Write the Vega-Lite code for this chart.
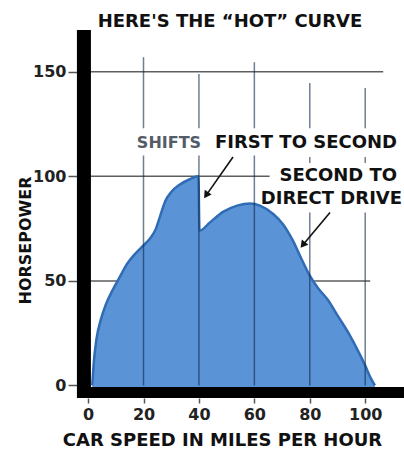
{
  "$schema": "https://vega.github.io/schema/vega-lite/v6.json",
  "width": 327,
  "height": 368,
  "autosize": {"type": "none"},
  "padding": {"left": 77, "top": 30, "right": 0, "bottom": 54},
  "background": "white",
  "config": {"view": {"stroke": null}},
  "datasets": {
    "curve": [
      {"speed": 1.5, "hp": 0}, {"speed": 2, "hp": 10}, {"speed": 3, "hp": 22}, {"speed": 4.5, "hp": 31},
      {"speed": 6.5, "hp": 39}, {"speed": 9, "hp": 46}, {"speed": 11.5, "hp": 52}, {"speed": 14, "hp": 58},
      {"speed": 17, "hp": 63}, {"speed": 20, "hp": 67}, {"speed": 22.5, "hp": 70.5}, {"speed": 24.5, "hp": 75},
      {"speed": 26, "hp": 81}, {"speed": 27.8, "hp": 88}, {"speed": 30, "hp": 92.5}, {"speed": 33, "hp": 96},
      {"speed": 36.5, "hp": 98.5}, {"speed": 39.8, "hp": 100}, {"speed": 40.2, "hp": 74}, {"speed": 44, "hp": 78},
      {"speed": 48.7, "hp": 83}, {"speed": 53.8, "hp": 86}, {"speed": 58.5, "hp": 87}, {"speed": 62, "hp": 86},
      {"speed": 66.8, "hp": 82}, {"speed": 70.4, "hp": 77}, {"speed": 74, "hp": 69}, {"speed": 77, "hp": 60.5},
      {"speed": 80, "hp": 52.5}, {"speed": 83, "hp": 46.5}, {"speed": 86.5, "hp": 41}, {"speed": 90, "hp": 33.5},
      {"speed": 94, "hp": 25}, {"speed": 98, "hp": 15}, {"speed": 100, "hp": 9.5}, {"speed": 102, "hp": 3.5},
      {"speed": 103.5, "hp": 0}
    ],
    "hgrid": [
      {"hp": 150, "speed": -1, "speed2": 106.5},
      {"hp": 100, "speed": -1, "speed2": 65.5},
      {"hp": 50, "speed": -1, "speed2": 101.8}
    ],
    "vgrid": [
      {"speed": 20, "hp": 0, "hp2": 110}, {"speed": 20, "hp": 123, "hp2": 157},
      {"speed": 40, "hp": 0, "hp2": 110}, {"speed": 40, "hp": 123, "hp2": 149},
      {"speed": 60, "hp": 0, "hp2": 110}, {"speed": 60, "hp": 123, "hp2": 154.6},
      {"speed": 80, "hp": 0, "hp2": 82.7}, {"speed": 80, "hp": 106.4, "hp2": 109.3}, {"speed": 80, "hp": 123, "hp2": 144.7},
      {"speed": 100, "hp": 0, "hp2": 82.7}, {"speed": 100, "hp": 106.4, "hp2": 109.3}, {"speed": 100, "hp": 123, "hp2": 142.3}
    ]
  },
  "layer": [
    {
      "data": {"name": "hgrid"},
      "mark": {"type": "rule", "color": "#5e5e5e", "strokeWidth": 1.5},
      "encoding": {
        "y": {"field": "hp", "type": "quantitative"},
        "x": {"field": "speed", "type": "quantitative"},
        "x2": {"field": "speed2"}
      }
    },
    {
      "data": {"name": "curve"},
      "mark": {"type": "area", "interpolate": "monotone", "color": "#5b94d6", "opacity": 1, "line": {"color": "#2f6cb5", "strokeWidth": 2.5}},
      "encoding": {
        "x": {"field": "speed", "type": "quantitative", "scale": {"domain": [-4, 114], "nice": false, "zero": false},
          "axis": {"values": [0, 20, 40, 60, 80, 100], "grid": false, "domain": false, "tickSize": 5, "tickColor": "#555", "tickWidth": 1.5,
            "labelFont": "DejaVu Sans", "labelFontSize": 16, "labelFontWeight": "bold", "labelColor": "#222", "labelPadding": 3,
            "title": "CAR SPEED IN MILES PER HOUR", "titleFont": "DejaVu Sans", "titleFontSize": 18, "titleFontWeight": "bold", "titleColor": "#111",
            "titleX": 145, "titleY": 42, "titleAlign": "center", "titleBaseline": "middle"}},
        "y": {"field": "hp", "type": "quantitative", "scale": {"domain": [-6, 170], "nice": false, "zero": false},
          "axis": {"values": [0, 50, 100, 150], "grid": false, "domain": false, "tickSize": 9, "tickColor": "#555", "tickWidth": 1.5,
            "labelFont": "DejaVu Sans", "labelFontSize": 16, "labelFontWeight": "bold", "labelColor": "#222", "labelPadding": 2,
            "title": "HORSEPOWER", "titleFont": "DejaVu Sans", "titleFontSize": 16, "titleFontWeight": "bold", "titleColor": "#111",
            "titleX": -52, "titleY": 210, "titleAngle": 270, "titleAlign": "center", "titleBaseline": "middle"}},
        "y2": {"datum": -1}
      }
    },
    {
      "data": {"name": "vgrid"},
      "mark": {"type": "rule", "color": "#10284a", "opacity": 0.6, "strokeWidth": 1.5},
      "encoding": {
        "x": {"field": "speed", "type": "quantitative"},
        "y": {"field": "hp", "type": "quantitative"},
        "y2": {"field": "hp2"}
      }
    },
    {
      "data": {"values": [{"speed": -1.5, "hp": -6, "hp2": 170}]},
      "mark": {"type": "rule", "color": "#000", "strokeWidth": 14, "strokeCap": "butt"},
      "encoding": {
        "x": {"field": "speed", "type": "quantitative"},
        "y": {"field": "hp", "type": "quantitative"},
        "y2": {"field": "hp2"}
      }
    },
    {
      "data": {"values": [{"hp": -3.4, "speed": -4, "speed2": 114}]},
      "mark": {"type": "rule", "color": "#000", "strokeWidth": 11, "strokeCap": "butt"},
      "encoding": {
        "y": {"field": "hp", "type": "quantitative"},
        "x": {"field": "speed", "type": "quantitative"},
        "x2": {"field": "speed2"}
      }
    },
    {
      "data": {"values": [{"speed": 51.2, "hp": 174, "label": "HERE'S THE “HOT” CURVE"}]},
      "mark": {"type": "text", "align": "center", "baseline": "middle", "font": "DejaVu Sans", "fontSize": 18, "fontWeight": "bold", "color": "#111", "clip": false},
      "encoding": {
        "x": {"field": "speed", "type": "quantitative"},
        "y": {"field": "hp", "type": "quantitative"},
        "text": {"field": "label"}
      }
    },
    {
      "data": {"values": [{"speed": 17.6, "hp": 116, "label": "SHIFTS"}]},
      "mark": {"type": "text", "align": "left", "baseline": "middle", "font": "DejaVu Sans", "fontSize": 16, "fontWeight": "bold", "color": "#555c68"},
      "encoding": {
        "x": {"field": "speed", "type": "quantitative"},
        "y": {"field": "hp", "type": "quantitative"},
        "text": {"field": "label"}
      }
    },
    {
      "data": {"values": [{"speed": 45.8, "hp": 116, "label": "FIRST TO SECOND"}]},
      "mark": {"type": "text", "align": "left", "baseline": "middle", "font": "DejaVu Sans", "fontSize": 18, "fontWeight": "bold", "color": "#111"},
      "encoding": {
        "x": {"field": "speed", "type": "quantitative"},
        "y": {"field": "hp", "type": "quantitative"},
        "text": {"field": "label"}
      }
    },
    {
      "data": {"values": [{"speed": 111.5, "hp": 100.2, "label": "SECOND TO"}, {"speed": 113.3, "hp": 89, "label": "DIRECT DRIVE"}]},
      "mark": {"type": "text", "align": "right", "baseline": "middle", "font": "DejaVu Sans", "fontSize": 18, "fontWeight": "bold", "color": "#111"},
      "encoding": {
        "x": {"field": "speed", "type": "quantitative"},
        "y": {"field": "hp", "type": "quantitative"},
        "text": {"field": "label"}
      }
    },
    {
      "data": {"values": [{"speed": 52.3, "hp": 109.3, "speed2": 42.9, "hp2": 91.5}, {"speed": 87.3, "hp": 82.7, "speed2": 77.8, "hp2": 67.6}]},
      "mark": {"type": "rule", "color": "#111", "strokeWidth": 1.6},
      "encoding": {
        "x": {"field": "speed", "type": "quantitative"},
        "y": {"field": "hp", "type": "quantitative"},
        "x2": {"field": "speed2"},
        "y2": {"field": "hp2"}
      }
    },
    {
      "data": {"values": [{"speed": 42.6, "hp": 91}]},
      "mark": {"type": "point", "shape": "triangle-up", "filled": true, "color": "#111", "opacity": 1, "size": 70, "angle": 214},
      "encoding": {
        "x": {"field": "speed", "type": "quantitative"},
        "y": {"field": "hp", "type": "quantitative"}
      }
    },
    {
      "data": {"values": [{"speed": 77.5, "hp": 67.2}]},
      "mark": {"type": "point", "shape": "triangle-up", "filled": true, "color": "#111", "opacity": 1, "size": 70, "angle": 218},
      "encoding": {
        "x": {"field": "speed", "type": "quantitative"},
        "y": {"field": "hp", "type": "quantitative"}
      }
    }
  ]
}
